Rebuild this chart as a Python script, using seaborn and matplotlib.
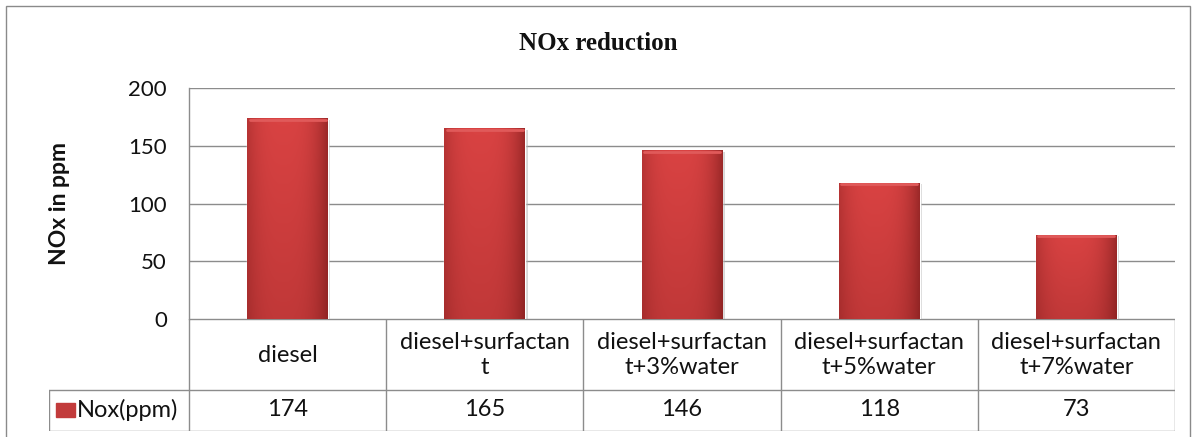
import numpy as np
import pandas as pd
import matplotlib.pyplot as plt
import seaborn as sns
from matplotlib.patches import Rectangle

categories = ["diesel", "diesel+surfactant", "diesel+surfactant+3%water",
              "diesel+surfactant+5%water", "diesel+surfactant+7%water"]
table_labels = ["diesel", "diesel+surfactan\nt", "diesel+surfactan\nt+3%water",
                "diesel+surfactan\nt+5%water", "diesel+surfactan\nt+7%water"]
nox_values = [174, 165, 146, 118, 73]
series_name = "Nox(ppm)"
y_ticks = [0, 50, 100, 150, 200]

W, H = 1197, 437
grid_col = "#8c8c8c"
text_col = "#111111"
bar_col = "#c23b3b"

sns.set_theme(style="white")
plt.rcParams["font.family"] = ["Lato", "DejaVu Sans"]

fig = plt.figure(figsize=(W / 100, H / 100), dpi=100)

# outer chart border
fig.add_artist(Rectangle((6 / W, -0.05), (1190 - 6) / W, 1.05 - 6 / H,
                         transform=fig.transFigure, fill=False,
                         edgecolor="#8a8a8a", linewidth=1))

ax = fig.add_axes([189 / W, 1 - 319 / H, (1175 - 189) / W, (319 - 88) / H])
df = pd.DataFrame({"category": categories, "value": nox_values})
sns.barplot(data=df, x="category", y="value", color=bar_col, width=0.41,
            saturation=1, ax=ax, zorder=3)

ax.set_xlim(-0.5, len(categories) - 0.5)
ax.set_ylim(0, 200)
ax.set_yticks(y_ticks)
ax.set_yticklabels([str(t) for t in y_ticks], fontsize=16, color=text_col)
ax.tick_params(axis="y", length=0, pad=16)
ax.set_xticks([])
ax.set_xlabel("")
ax.set_ylabel("NOx in ppm", fontsize=16.5, fontweight="bold", color=text_col,
              labelpad=42)
ax.yaxis.grid(True, color=grid_col, linewidth=1)
ax.set_axisbelow(True)
for s in ["top", "right", "bottom"]:
    ax.spines[s].set_visible(False)
ax.spines["left"].set_color(grid_col)
ax.spines["left"].set_linewidth(1)

# gradient shading on bars, similar to the bevelled Excel look
xs = np.linspace(0, 1, 60)
ys = np.linspace(0, 1, 60)
gx = 1 - 0.55 * (np.abs(xs - 0.45) / 0.55) ** 3
gy = 0.78 + 0.22 * ys
shade = np.outer(gy, gx)
base = np.array([0.85, 0.26, 0.26])
dark = np.array([0.42, 0.08, 0.08])
img = dark + (base - dark) * shade[..., None]
for p in ax.patches:
    x0, y0 = p.get_x(), p.get_y()
    w, h = p.get_width(), p.get_height()
    # soft shadow
    ax.add_patch(Rectangle((x0 + 0.012, y0), w, h - 1.5, color="#b0b0b0",
                           alpha=0.5, zorder=2, linewidth=0))
    im = ax.imshow(img, extent=(x0, x0 + w, y0, y0 + h), origin="lower",
                   aspect="auto", zorder=4, interpolation="bilinear")
    im.set_clip_path(p)
    ax.plot([x0 + 0.012, x0 + w - 0.012], [y0 + h - 1.3, y0 + h - 1.3],
            color="#e05a5a", linewidth=2, zorder=5)

fig.text(0.5, 1 - 43 / H, "NOx reduction", ha="center", va="center",
         fontsize=18, fontweight="bold", family="Liberation Serif", color=text_col)

# data table under the plot
tab = fig.add_axes([49 / W, 1 - 431 / H, (1175 - 49) / W, (431 - 319) / H])
left_ext = (189 - 49) / ((1175 - 189) / len(categories))
tab.set_xlim(-0.5 - left_ext, len(categories) - 0.5)
tab.set_ylim(112, 0)
tab.axis("off")
n = len(categories)
lc = dict(color=grid_col, linewidth=1)
tab.plot([-0.5, n - 0.5], [0, 0], **lc)
tab.plot([-0.5 - left_ext, n - 0.5], [71, 71], **lc)
tab.plot([-0.5 - left_ext, n - 0.5], [111.5, 111.5], **lc)
tab.plot([-0.5 - left_ext, -0.5 - left_ext], [71, 111.5], **lc)
for i in range(n + 1):
    tab.plot([i - 0.5, i - 0.5], [0, 111.5], **lc)
for i, (lab, v) in enumerate(zip(table_labels, nox_values)):
    tab.text(i, 36, lab, ha="center", va="center", fontsize=17,
             color=text_col, linespacing=1.2)
    tab.text(i, 91, str(v), ha="center", va="center", fontsize=17,
             color=text_col)
px = 1 / ((1175 - 189) / len(categories))
tab.add_patch(Rectangle((-0.5 - left_ext + 7 * px, 84), 19 * px, 14,
                        color=bar_col, clip_on=False))
tab.text(-0.5 - left_ext + 28 * px, 91, series_name, ha="left", va="center",
         fontsize=17, color=text_col)

fig.savefig("out.png", dpi=100, facecolor="white")
